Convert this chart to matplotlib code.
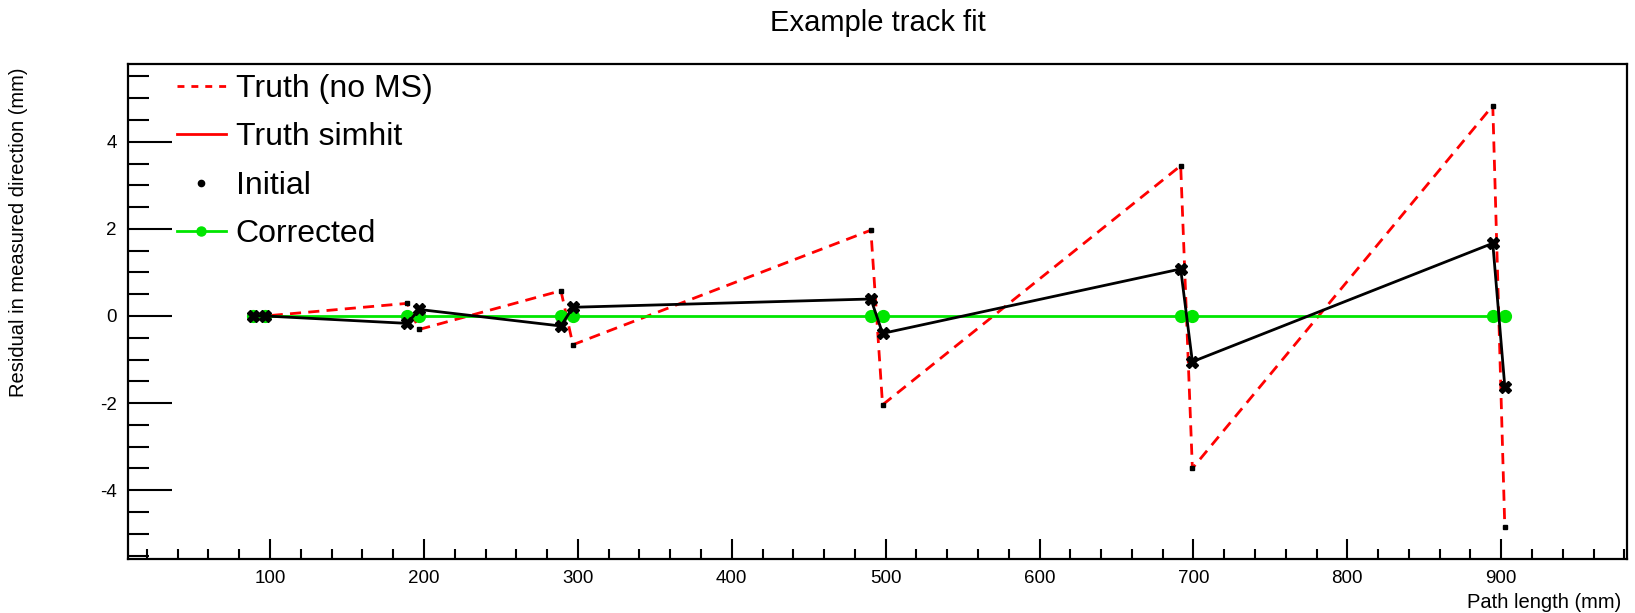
import numpy as np
import matplotlib.pyplot as plt
from matplotlib.lines import Line2D
from matplotlib.ticker import MultipleLocator

plt.rcParams['font.family'] = ['Liberation Sans', 'DejaVu Sans']
plt.rcParams['axes.unicode_minus'] = False

# Layer positions along the track (mm)
path_len = [89.2, 96.8, 189.2, 196.8, 289.0, 296.8, 490.4, 498.0, 691.7, 699.3, 894.5, 902.3]

# Residuals (mm)
truth_no_ms = [0.0, 0.0, 0.29, -0.31, 0.58, -0.66, 1.97, -2.04, 3.45, -3.50, 4.83, -4.85]
truth_simhit = []
initial = [0.0, 0.0, -0.17, 0.15, -0.23, 0.20, 0.39, -0.40, 1.08, -1.05, 1.67, -1.62]
corrected = [0.0] * 12

fig = plt.figure(figsize=(16.35, 6.13), dpi=100)
ax = fig.add_axes([0.0781, 0.0876, 0.917, 0.808])

# dashed truth line, small black dots at its vertices
ax.plot(path_len, truth_no_ms, color='red', lw=2, dashes=(4, 2.6),
        marker='s', ms=2.2, mfc='black', mec='black', zorder=2)
ax.plot(truth_simhit, truth_simhit, color='red', lw=2, zorder=2)
ax.plot(path_len, corrected, color='#00e600', lw=2, marker='o', ms=8.5,
        mec='#00e600', mfc='#00e600', zorder=3)
ax.plot(path_len, initial, color='black', lw=2, marker='X', ms=8,
        mfc='black', mec='black', zorder=4)

ax.set_xlim(7.5, 981.7)
ax.set_ylim(-5.587, 5.786)

ax.xaxis.set_major_locator(MultipleLocator(100))
ax.xaxis.set_minor_locator(MultipleLocator(20))
ax.yaxis.set_major_locator(MultipleLocator(2))
ax.yaxis.set_minor_locator(MultipleLocator(0.5))
ax.set_xticks([100, 200, 300, 400, 500, 600, 700, 800, 900])

ax.tick_params(axis='both', which='both', direction='in', top=False, right=False,
               width=1.5, labelsize=13.5)
ax.tick_params(axis='y', which='major', length=31.7, pad=8)
ax.tick_params(axis='y', which='minor', length=15)
ax.tick_params(axis='x', which='major', length=14.4, pad=8)
ax.tick_params(axis='x', which='minor', length=7.2)
for sp in ax.spines.values():
    sp.set_linewidth(1.6)

ax.set_xlabel('Path length (mm)', fontsize=14.5, loc='right')
ax.xaxis.set_label_coords(0.996, -0.068)
ax.set_ylabel('Residual in measured direction (mm)', fontsize=14.5, loc='top')
ax.yaxis.set_label_coords(-0.0665, 0.992)

fig.text(878 / 1635, 1 - 23 / 613, 'Example track fit', fontsize=21,
         ha='center', va='center')

handles = [
    Line2D([], [], color='red', lw=2, dashes=(2.5, 2.5)),
    Line2D([], [], color='red', lw=2),
    Line2D([], [], color='black', lw=0, marker='o', ms=4.5),
    Line2D([], [], color='#00e600', lw=2, marker='o', ms=6.5),
]
labels = ['Truth (no MS)', 'Truth simhit', 'Initial', 'Corrected']
ax.legend(handles, labels, loc='upper left', bbox_to_anchor=(0.0327, 0.98),
          frameon=False, fontsize=23, handlelength=1.55, handletextpad=0.3,
          labelspacing=0.58, borderpad=0, borderaxespad=0)

fig.savefig('out.png', dpi=100)
